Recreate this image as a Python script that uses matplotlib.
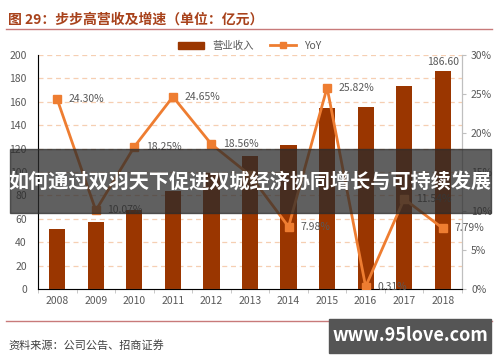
import numpy as np
import matplotlib.pyplot as plt
from matplotlib.patches import Rectangle
from matplotlib.lines import Line2D

plt.rcParams['font.family'] = ['Noto Sans CJK SC', 'DejaVu Sans']

# data
years = ['2008', '2009', '2010', '2011', '2012', '2013', '2014', '2015', '2016', '2017', '2018']
revenue = [51.7, 56.9, 67.3, 83.8, 99.4, 113.9, 123.0, 154.7, 155.2, 173.1, 186.60]
yoy = [24.30, 10.07, 18.25, 24.65, 18.56, 14.60, 7.98, 25.82, 0.31, 11.54, 7.79]
yoy_labels = ['24.30%', '10.07%', '18.25%', '24.65%', '18.56%', '', '7.98%', '25.82%', '0.31%', '11.54%', '7.79%']
left_ticks = list(range(0, 201, 20))
right_ticks = list(range(0, 31, 5))

bar_color = '#9A3600'
line_color = '#EE7D31'
grid_color = '#F6CFB2'
tick_color = '#595959'
title_color = '#A8421B'

fig = plt.figure(figsize=(5, 3.62), dpi=100)
ax = fig.add_axes([0.076, 0.2017, 0.848, 0.6463])
x = np.arange(len(years))

ax.bar(x, revenue, width=0.42, color=bar_color, zorder=2)
ax.set_xlim(-0.5, 10.5)
ax.set_ylim(0, 200)
ax.set_yticks(left_ticks)
ax.set_xticks(x)
ax.set_xticklabels(years)
ax.set_xticks(np.arange(-0.5, 10.6, 1), minor=True)
ax.tick_params(axis='x', which='major', length=0, labelsize=7.5, colors=tick_color, pad=5)
ax.tick_params(axis='x', which='minor', length=3, color='#BFBFBF')
ax.tick_params(axis='y', length=0, labelsize=7.5, colors=tick_color, pad=8)
for t in left_ticks[1:]:
    ax.axhline(t, color=grid_color, lw=0.9, ls=(0, (4, 3)), zorder=1)
for s in ['top']:
    ax.spines[s].set_visible(False)
for s in ['left', 'bottom', 'right']:
    ax.spines[s].set_color('#BFBFBF')
ax.text(x[-1], revenue[-1] + 3, '186.60', ha='center', va='bottom', fontsize=7.5, color=tick_color)

ax2 = ax.twinx()
ax2.set_ylim(0, 30)
ax2.set_yticks(right_ticks)
ax2.set_yticklabels([f'{t}%' for t in right_ticks])
ax2.tick_params(axis='y', length=3, labelsize=7.5, colors=tick_color, color='#BFBFBF')
ax2.spines['top'].set_visible(False)
ax2.spines['right'].set_color('#BFBFBF')
ax2.plot(x, yoy, color=line_color, lw=2, marker='s', markersize=6, zorder=3)
for xi, yi, lab in zip(x, yoy, yoy_labels):
    if lab:
        ax2.text(xi + 0.3, yi, lab, ha='left', va='center', fontsize=7.5, color=tick_color)

# legend
handles = [Rectangle((0, 0), 1, 1, color=bar_color),
           Line2D([0], [0], color=line_color, lw=2, marker='s', markersize=4)]
fig.legend(handles, ['营业收入', 'YoY'], loc='center', bbox_to_anchor=(0.5, 0.873),
           ncol=2, frameon=False, fontsize=7.5, handlelength=2.5, columnspacing=1.5,
           labelcolor=tick_color)

# title and rules
fig.text(0.016, 0.947, '图 29：步步高营收及增速（单位：亿元）', fontsize=10, color=title_color,
         fontweight='bold', va='center')
fig.add_artist(Line2D([0.012, 0.984], [0.92, 0.92], color='#C87A7A', lw=1))
fig.add_artist(Line2D([0.012, 0.984], [0.113, 0.113], color='#C87A7A', lw=1))
fig.text(0.016, 0.047, '资料来源：公司公告、招商证券', fontsize=8, color='#404040', va='center')

# overlays
fig.add_artist(Rectangle((0.02, 0.412), 0.962, 0.177, transform=fig.transFigure,
                         color='#2b2b2b', alpha=0.75, zorder=10))
fig.text(0.5, 0.5, '如何通过双羽天下促进双城经济协同增长与可持续发展', fontsize=14.5,
         color='white', fontweight='bold', ha='center', va='center', zorder=11)
fig.add_artist(Rectangle((0.658, 0.025), 0.324, 0.094, transform=fig.transFigure,
                         color='#555555', zorder=10))
fig.text(0.82, 0.072, 'www.95love.com', fontsize=13, color='white', fontweight='bold',
         ha='center', va='center', zorder=11)

fig.savefig('out.png', dpi=100)
